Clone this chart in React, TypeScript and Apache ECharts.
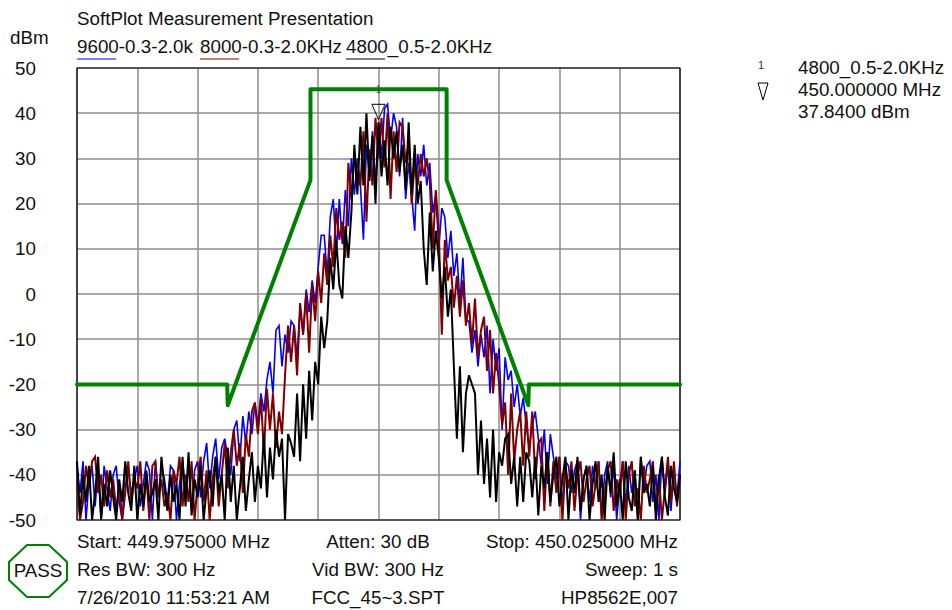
import React, { useEffect, useRef } from "react";
import * as echarts from "echarts";

const FONT = "'Liberation Sans', Arial, sans-serif";
const TITLE = "SoftPlot Measurement Presentation";
const seriesNames = ["9600-0.3-2.0k", "8000-0.3-2.0KHz", "4800_0.5-2.0KHz"];
const seriesColors = ["#0000ff", "#800000", "#000000"];
const seriesWidths = [1.6, 2, 2];
const dbTicks = { min: -50, max: 50, step: 10 };
const freqOffsets = { min: -25, max: 25, step: 5 };

const trace9600 = [
  -38,-44,-37,-50,-41,-38,-47,-39,-50,-38,
  -43,-48,-40,-38,-46,-50,-38,-39,-44,-41,
  -38,-47,-42,-37,-39,-50,-37,-45,-38,-41,
  -46,-38,-39,-50,-42,-37,-44,-38,-48,-39,
  -37,-45,-37,-33,-43,-36,-32,-41,-34,-32,
  -36,-40,-30,-28,-37,-27,-33,-26,-31,-24,
  -29,-22,-26,-19,-15,-22,-8,-7,-16,-9,
  -13,-6,-7,-14,-3,-9,1,-4,3,-2,
  6,13,13,4,17,21,9,21,11,23,
  15,30,22,30,24,12,33,26,36,24,
  38,30,41,42,34,40,37,26,39,21,
  29,22,14,31,26,33,24,29,18,22,
  10,19,17,8,14,4,9,-2,8,-6,
  -6,-13,-8,-16,-9,-14,-7,-22,-10,-17,
  -12,-30,-14,-19,-17,-25,-20,-27,-23,-29,
  -34,-29,-26,-32,-38,-30,-42,-31,-36,-41,
  -36,-47,-37,-38,-44,-39,-37,-50,-41,-38,
  -46,-38,-43,-37,-49,-40,-37,-45,-38,-50,
  -42,-37,-47,-38,-44,-39,-50,-36,-43,-38,
  -37,-46,-40,-50,-36,-44,-38,-48,-39,-45,
  -37,
];

const trace8000 = [
  -41,-50,-46,-38,-43,-37,-36,-44,-40,-47,
  -39,-45,-41,-48,-42,-50,-44,-37,-46,-41,
  -43,-37,-48,-40,-50,-38,-37,-45,-41,-47,
  -44,-50,-39,-42,-36,-47,-40,-46,-37,-50,
  -42,-36,-46,-39,-50,-41,-36,-47,-40,-33,
  -43,-35,-30,-38,-33,-44,-31,-36,-26,-24,
  -31,-23,-35,-21,-30,-22,-34,-26,-31,-18,
  -7,-15,-7,-18,-2,-9,0,-13,2,-6,
  5,-2,9,2,13,6,19,12,16,8,
  29,21,31,26,24,36,16,32,24,39,
  30,39,28,40,21,36,27,38,37,29,
  33,20,29,24,31,26,30,25,10,23,
  14,-9,12,3,6,-3,4,-5,3,-7,
  -2,-11,-1,-14,-8,-5,-17,-8,-22,-13,
  -20,-29,-24,-40,-22,-37,-30,-26,-38,-26,
  -36,-26,-41,-33,-32,-48,-35,-47,-37,-44,
  -36,-50,-38,-43,-37,-48,-40,-37,-46,-41,
  -38,-47,-42,-37,-50,-44,-39,-37,-48,-41,
  -45,-37,-50,-40,-37,-47,-43,-50,-38,-44,
  -41,-37,-48,-40,-50,-43,-36,-46,-37,-47,
  -40,
];

const trace4800 = [
  -37,-49,-40,-46,-38,-50,-44,-36,-50,-42,
  -47,-39,-45,-50,-41,-46,-37,-44,-48,-38,
  -50,-42,-47,-39,-46,-44,-41,-50,-36,-43,
  -48,-40,-46,-42,-50,-36,-47,-35,-49,-41,
  -45,-38,-50,-43,-39,-47,-36,-44,-40,-50,
  -34,-46,-38,-50,-43,-36,-48,-41,-35,-46,
  -38,-43,-31,-45,-34,-41,-30,-36,-32,-50,
  -31,-33,-36,-22,-37,-20,-32,-17,-28,-15,
  -20,-5,-12,-6,8,1,12,2,-1,15,
  8,18,33,22,37,24,40,25,35,20,
  38,26,34,24,37,30,36,27,33,23,
  38,22,33,20,25,10,2,18,5,14,
  8,-1,6,-5,1,-16,-32,-16,-35,-22,
  -18,-20,-22,-40,-28,-42,-32,-45,-30,-46,
  -35,-38,-32,-31,-42,-36,-47,-36,-46,-35,
  -37,-45,-36,-49,-38,-43,-35,-46,-40,-36,
  -47,-41,-36,-50,-39,-44,-36,-48,-41,-38,
  -50,-42,-37,-46,-40,-50,-38,-44,-35,-47,
  -41,-50,-37,-45,-48,-39,-50,-36,-44,-42,
  -47,-38,-50,-41,-36,-45,-49,-38,-43,-46,
  -40,
];

const limitFreq = [-25, -12.55, -12.5, -5.64, -5.64, 5.65, 5.65, 12.42, 12.47, 25];
const limitDb = [-20, -20, -24.6, 25.2, 45.3, 45.3, 25.2, -24.6, -20, -20];

const markerFreq = 0;
const markerDb = 37.84;
const markerLabel = "1";
const markerInfo = ["4800_0.5-2.0KHz", "450.000000 MHz", "37.8400 dBm"];
const footerLeft = ["Start: 449.975000 MHz", "Res BW: 300 Hz", "7/26/2010 11:53:21 AM"];
const footerMid = ["Atten: 30 dB", "Vid BW: 300 Hz", "FCC_45~3.SPT"];
const footerRight = ["Stop: 450.025000 MHz", "Sweep: 1 s", "HP8562E,007"];

const STEP_KHZ = 0.25;
const toPairs = (vals: number[]) => vals.map((v, i) => [freqOffsets.min + i * STEP_KHZ, v]);

export default function App() {
  const ref = useRef<HTMLDivElement>(null);
  useEffect(() => {
    if (!ref.current) return;
    const chart = echarts.init(ref.current, undefined, { renderer: "svg" });
    const FS = 18.8;
    const txt = (x: number, y: number, text: string, align = "left") => ({
      type: "text", x, y, silent: true,
      style: { text, font: `${FS}px ${FONT}`, fill: "#111", textAlign: align, textVerticalAlign: "middle" },
    });
    const traces = [trace9600, trace8000, trace4800];
    const legendX = [77, 200, 346];
    const rows = [541, 569, 597];
    chart.setOption({
      animation: false,
      backgroundColor: "#fff",
      grid: { left: 77, top: 68, width: 603, height: 452, show: false },
      xAxis: {
        type: "value", min: freqOffsets.min, max: freqOffsets.max, interval: freqOffsets.step,
        axisLabel: { show: false }, axisTick: { show: false },
        axisLine: { show: false },
        splitLine: { show: true, lineStyle: { color: "#8c8c8c", width: 1.5 } },
      },
      yAxis: {
        type: "value", min: dbTicks.min, max: dbTicks.max, interval: dbTicks.step,
        axisTick: { show: false }, axisLine: { show: false },
        axisLabel: { show: true, color: "#111", fontFamily: FONT, fontSize: FS, margin: 41 },
        splitLine: { show: true, lineStyle: { color: "#8c8c8c", width: 1.5 } },
      },
      series: [
        ...traces.map((t, i) => ({
          type: "line", name: seriesNames[i], data: toPairs(t), showSymbol: false, symbol: "none",
          lineStyle: { color: seriesColors[i], width: seriesWidths[i], join: "miter" }, z: 3 + i, clip: true, silent: true,
        })),
        {
          type: "line", name: "Limit", data: limitFreq.map((f, i) => [f, limitDb[i]]), symbol: "none",
          lineStyle: { color: "#008000", width: 4, cap: "round", join: "round" }, z: 7, clip: false, silent: true,
        },
        {
          type: "scatter", name: "Marker", data: [[markerFreq, markerDb]], z: 8, clip: false, silent: true,
          symbol: "path://M0 0L10 0L5 11Z", symbolSize: [13, 15], symbolOffset: [0, -11],
          itemStyle: { color: "rgba(0,0,0,0)", borderColor: "#000", borderWidth: 1.2 },
          label: {
            show: true, formatter: markerLabel, position: "top", distance: 9,
            color: "#333", fontFamily: FONT, fontSize: 10,
          },
        },
      ],
      graphic: { elements: [
        {
          type: "rect", silent: true, z: 1,
          shape: { x: 77, y: 68, width: 603, height: 452 },
          style: { fill: "none", stroke: "#000", lineWidth: 1.2 },
        },
        txt(77, 18, TITLE),
        txt(10, 37, "dBm"),
        ...seriesNames.map((n, i) => txt(legendX[i], 46, n)),
        ...seriesColors.map((c, i) => ({
          type: "line", silent: true,
          shape: { x1: legendX[i], y1: 59, x2: legendX[i] + 39, y2: 59 },
          style: { stroke: c, lineWidth: 1 },
        })),
        ...rows.map((y, i) => txt(77, y, footerLeft[i])),
        ...rows.map((y, i) => txt(378, y, footerMid[i], "center")),
        ...rows.map((y, i) => txt(678, y, footerRight[i], "right")),
        {
          type: "polygon", silent: true,
          shape: { points: [[27, 545], [49, 545], [67, 562], [67, 580], [49, 597], [27, 597], [9, 580], [9, 562]] },
          style: { fill: "none", stroke: "#008000", lineWidth: 2 },
        },
        txt(38, 570, "PASS", "center"),
        {
          type: "text", x: 761, y: 65, silent: true,
          style: { text: markerLabel, font: `11px ${FONT}`, fill: "#333", textAlign: "center", textVerticalAlign: "middle" },
        },
        {
          type: "polygon", silent: true,
          shape: { points: [[758, 83], [768, 83], [763, 100]] },
          style: { fill: "none", stroke: "#000", lineWidth: 1 },
        },
        ...markerInfo.map((t, i) => txt(798, 67 + i * 22, t)),
      ] },
    });
    return () => chart.dispose();
  }, []);
  return <div ref={ref} style={{ position: "absolute", left: 0, top: 0, width: 952, height: 610 }} />;
}
